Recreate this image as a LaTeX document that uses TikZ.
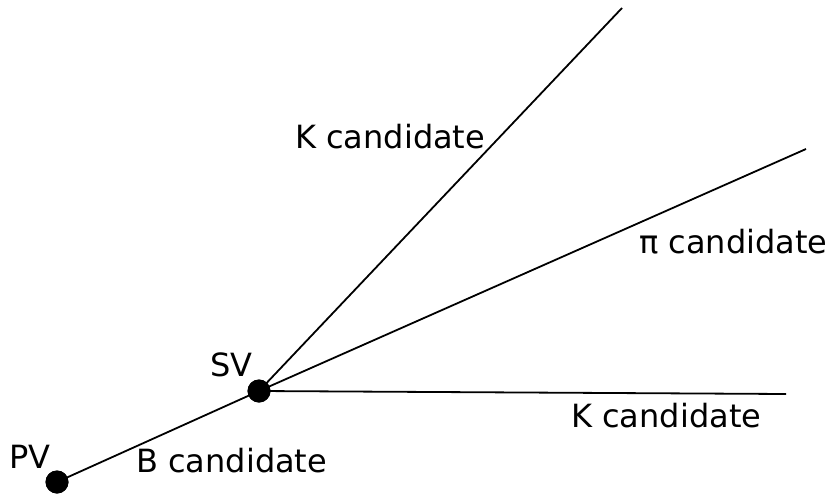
\documentclass[tikz,border=0pt]{standalone}
\usepackage{fontspec}
\setmainfont{DejaVu Sans}
\begin{document}
\begin{tikzpicture}[x=1pt,y=-1pt,
  track/.style={line width=1.8pt,black},
  vtx/.style={circle,fill=black,inner sep=0pt,minimum size=23pt},
  lbl/.style={anchor=base west,inner sep=0pt,font=\fontsize{32}{38}\selectfont}]
\useasboundingbox (0,0) rectangle (829,495);
\node[vtx] (pv) at (57,482) {};
\node[vtx] (sv) at (259,391) {};
\coordinate (k1) at (622,8);
\coordinate (pi) at (806,149);
\coordinate (k2) at (786,394);
\draw[track] (pv.center) -- (sv.center);
\draw[track] (sv.center) -- (k1);
\draw[track] (sv.center) -- (pi);
\draw[track] (sv.center) -- (k2);
\node[vtx] at (57,482) {};
\node[vtx] at (259,391) {};
\node[lbl] (pvl) at (9,468) {PV};
\node[lbl] (svl) at (210,376) {SV};
\node[lbl] (bl) at (136,472) {B candidate};
\node[lbl] (k1l) at (295,148) {K candidate};
\node[lbl] (pil) at (639,253) {π candidate};
\node[lbl] (k2l) at (571,427) {K candidate};
\end{tikzpicture}
\end{document}
